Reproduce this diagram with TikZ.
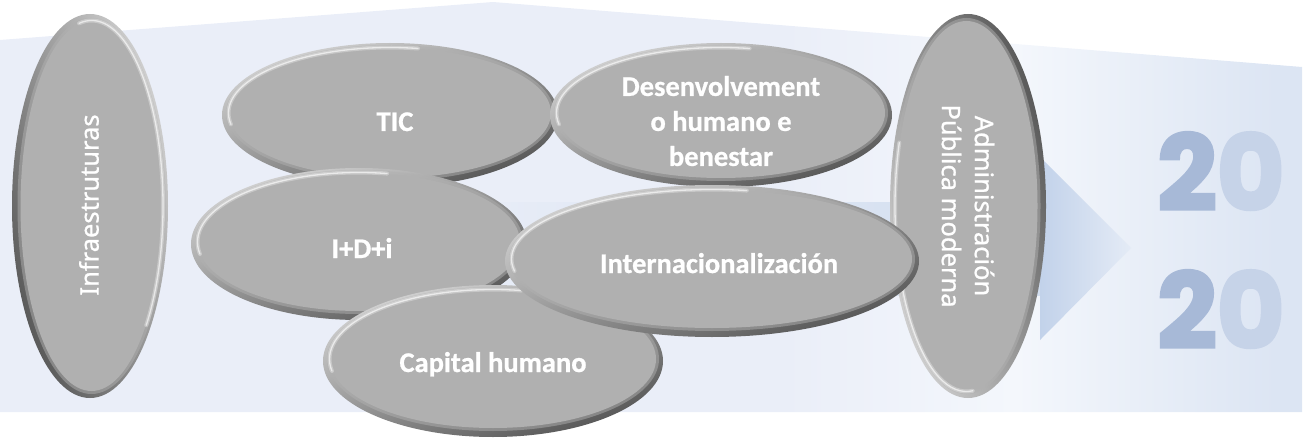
\documentclass[tikz,border=0pt]{standalone}
\usepackage{fontspec}
\usetikzlibrary{shapes.geometric}
\newfontfamily\pillfont{Carlito}[BoldFeatures={FakeBold=0.8}]
\newfontfamily\vertfont{Noto Sans}[FakeBold=0.9]
\newfontfamily\digitfont{Poppins}[BoldFeatures={FakeBold=3}]
\definecolor{bgA}{HTML}{EAEEF8}
\definecolor{bgB}{HTML}{F4F7FC}
\definecolor{bgC}{HTML}{DCE5F3}
\definecolor{bandc}{HTML}{D2DEEF}
\definecolor{triL}{HTML}{C2D2EA}
\definecolor{triR}{HTML}{E4EBF6}
\definecolor{pillgray}{HTML}{B0B0B0}
\definecolor{rimlight}{HTML}{D4D4D4}
\definecolor{rimdark}{HTML}{555555}
\definecolor{dgA}{HTML}{A7B9D7}
\definecolor{dgB}{HTML}{C6D3E8}
\pgfdeclarehorizontalshading{bgshade}{100bp}{color(0bp)=(bgA); color(25bp)=(bgA); color(55bp)=(bgA); color(64bp)=(bgB); color(74bp)=(bgC); color(100bp)=(bgC)}
\newcommand{\drawpill}[8]{%
  \pgfmathsetmacro\rxa{#3-4}\pgfmathsetmacro\rya{#4-4}%
  \pgfmathsetmacro\rxb{#3-7}\pgfmathsetmacro\ryb{#4-7}%
  \pgfmathsetmacro\rxc{#3-6.5}\pgfmathsetmacro\ryc{#4-6.5}%
  \shade[top color=rimlight, bottom color=rimdark, shading angle=#5] (#1,#2) ellipse [x radius=#3pt, y radius=#4pt];
  \fill[pillgray, opacity=.5] (#1,#2) ++(#8) ellipse [x radius=\rxa pt, y radius=\rya pt];
  \fill[pillgray] (#1,#2) ++(#8) ellipse [x radius=\rxb pt, y radius=\ryb pt];
  \draw[white, opacity=.3, line width=4pt, line cap=round] (#1,#2) ++(#8) ++(#6:\rxc pt and \ryc pt) arc[start angle=#6, end angle=#7, x radius=\rxc pt, y radius=\ryc pt];
  \draw[white, opacity=.6, line width=1.3pt, line cap=round] (#1,#2) ++(#8) ++(#6:\rxc pt and \ryc pt) arc[start angle=#6, end angle=#7, x radius=\rxc pt, y radius=\ryc pt];
}
\tikzset{
  pilltext/.style={text=white, inner sep=0pt, align=center, font=\pillfont\bfseries\fontsize{28.5}{35}\selectfont},
  verttext/.style={text=white, inner sep=0pt, align=center, font=\vertfont\fontsize{25.5}{33}\selectfont},
  digittext/.style={inner sep=0pt, anchor=base, font=\digitfont\bfseries\fontsize{104}{104}\selectfont}
}
\begin{document}
\begin{tikzpicture}[x=1pt, y=-1pt]
\useasboundingbox (0,0) rectangle (1306,441);
% background
\shade[shading=bgshade] (0,40) -- (493,2) -- (1302,67) -- (1302,412) -- (0,412) -- cycle;
% arrow
\shade[left color=bgA, right color=bandc] (420,202) rectangle (1042,295);
\shade[left color=triL, right color=triR] (1040,157) -- (1131,248) -- (1040,340) -- cycle;
% 2020
\node[digittext] (d1) at (1221,210) {\textcolor{dgA}{2}\textcolor{dgB}{0}};
\node[digittext] (d2) at (1221,348) {\textcolor{dgA}{2}\textcolor{dgB}{0}};
% vertical pills
\drawpill{90}{206}{78}{192}{-70}{100}{-40}{1.5,0}
\node[verttext, rotate=90] (inf) at (89,205) {Infraestruturas};
\drawpill{968}{206}{78}{192}{110}{160}{275}{-1.5,0}
\node[verttext, rotate=-90] (adm) at (968,206) {Administración\\Pública moderna};
% horizontal pills
\drawpill{390}{115}{168}{72}{20}{80}{190}{0,-2}
\node[pilltext, anchor=base] (tic) at (395,131) {TIC};
\drawpill{721}{115}{171}{72}{20}{80}{190}{0,-2}
\node[pilltext] (des) at (721,121) {Desenvolvement\\o humano e\\benestar};
\drawpill{359}{244}{168}{76}{20}{80}{190}{0,-2}
\node[pilltext, anchor=base] (idi) at (362,258) {I+D+i};
\drawpill{493}{361}{170}{76}{20}{80}{190}{0,-2}
\node[pilltext, anchor=base] (cap) at (493,372) {Capital humano};
\drawpill{712}{261}{207}{76}{20}{80}{190}{0,-2}
\node[pilltext, anchor=base] (int) at (719,273) {Internacionalización};
\end{tikzpicture}
\end{document}
